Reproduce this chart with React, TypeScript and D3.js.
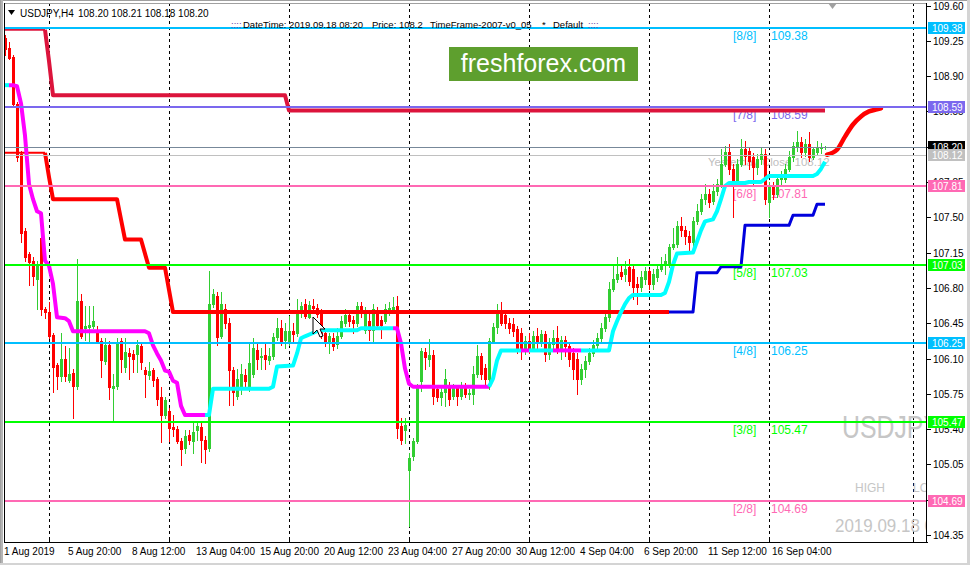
import React from "react";
import * as d3 from "d3";

const FONT = "'Liberation Sans', Arial, sans-serif";

// ---- data ----
const symbolHeader = "USDJPY,H4";
const ohlcHeader = "108.20 108.21 108.18 108.20";

const timeLabels = ["1 Aug 2019", "5 Aug 20:00", "8 Aug 12:00", "13 Aug 04:00", "15 Aug 20:00", "20 Aug 12:00", "23 Aug 04:00", "27 Aug 20:00", "30 Aug 12:00", "4 Sep 04:00", "6 Sep 20:00", "11 Sep 12:00", "16 Sep 04:00"];
const timeLabelBars = [0, 16, 32, 48, 64, 80, 96, 112, 128, 144, 160, 176, 192];
const gridBars = [11, 41, 71, 101, 131, 161, 191, 227];
const priceTicks = [109.6, 109.25, 108.9, 108.55, 108.2, 107.85, 107.5, 107.15, 106.8, 106.45, 106.1, 105.75, 105.4, 105.05, 104.7, 104.35];

const levelValues = [109.38, 108.59, 107.81, 107.03, 106.25, 105.47, 104.69];
const levelNames = ["[8/8]", "[7/8]", "[6/8]", "[5/8]", "[4/8]", "[3/8]", "[2/8]"];
const levelColors = ["#00BFFF", "#7B68EE", "#FF69B4", "#00FF00", "#00BFFF", "#00FF00", "#FF69B4"];
const bidPrice = 108.2;
const yesterdayClose = 108.12;

const opens = [109.28,109.18,109.09,108.62,108.13,107.36,107.14,107.07,106.89,107.29,106.59,106.56,106.33,106.04,105.93,106.10,105.89,105.96,105.83,106.67,106.40,106.41,106.42,106.37,106.27,106.08,106.23,105.81,105.83,106.27,106.02,106.15,106.14,106.14,106.22,105.99,105.94,105.99,105.90,105.72,105.54,105.58,105.42,105.40,105.28,105.21,105.34,105.28,105.39,105.42,105.29,105.21,106.64,106.72,106.32,106.59,106.45,105.99,105.73,105.80,105.94,105.80,105.95,106.18,106.11,106.13,106.09,106.12,106.31,106.40,106.28,106.27,106.37,106.35,106.56,106.64,106.51,106.62,106.60,106.55,106.35,106.27,106.30,106.24,106.32,106.45,106.53,106.48,106.45,106.62,106.38,106.47,106.38,106.56,106.48,106.47,106.56,106.58,106.62,105.43,105.39,104.99,105.13,105.28,105.88,106.16,106.10,106.13,105.80,105.72,105.77,105.83,105.73,105.81,105.73,105.83,105.75,105.75,105.95,106.12,106.01,105.90,106.27,106.41,106.56,106.53,106.45,106.44,106.39,106.35,106.18,106.27,106.20,106.32,106.25,106.34,106.14,106.24,106.30,106.20,106.28,106.22,106.15,106.10,105.90,106.00,106.08,106.15,106.23,106.30,106.40,106.51,106.79,106.89,106.96,106.94,107.01,106.99,106.84,106.81,106.89,106.97,106.84,106.91,106.99,107.04,107.04,107.21,107.24,107.41,107.37,107.31,107.26,107.46,107.56,107.68,107.73,107.66,107.76,107.83,108.03,108.15,107.98,107.86,108.03,108.18,108.16,108.10,108.00,108.08,108.13,107.65,107.80,107.73,107.88,107.88,107.98,108.10,108.21,108.25,108.15,108.23,108.10,108.15,108.19,108.20];
const highs = [109.31,109.24,109.11,108.64,108.16,107.39,107.16,107.11,107.07,107.33,106.61,106.66,106.35,106.06,106.35,106.22,106.20,106.00,107.09,106.74,106.62,106.62,106.62,106.42,106.30,106.30,106.27,105.95,106.30,106.30,106.30,106.20,106.18,106.28,106.25,106.02,106.07,106.01,105.92,105.82,105.72,105.61,105.54,105.43,105.31,105.39,105.39,105.48,105.48,105.46,105.33,106.97,106.79,106.76,106.76,106.64,106.50,106.02,106.00,106.05,106.00,106.25,106.30,106.25,106.20,106.25,106.20,106.35,106.50,106.48,106.45,106.52,106.45,106.69,106.66,106.69,106.67,106.69,106.64,106.59,106.38,106.35,106.35,106.40,106.52,106.59,106.57,106.52,106.66,106.66,106.61,106.54,106.64,106.61,106.52,106.64,106.66,106.71,106.72,105.51,105.51,105.16,105.31,105.85,106.20,106.20,106.29,106.18,105.82,105.82,106.00,105.87,105.85,105.84,105.87,105.86,105.80,106.03,106.23,106.15,106.05,106.30,106.45,106.64,106.66,106.56,106.50,106.50,106.42,106.40,106.32,106.35,106.37,106.40,106.38,106.37,106.30,106.38,106.42,106.32,106.32,106.25,106.20,106.15,106.05,106.12,106.20,106.28,106.35,106.45,106.55,106.86,107.04,107.11,107.03,107.07,107.09,107.04,106.91,106.97,107.01,106.99,106.99,107.04,107.11,107.14,107.24,107.39,107.46,107.50,107.41,107.36,107.50,107.63,107.73,107.83,107.78,107.83,107.88,108.18,108.21,108.23,108.03,108.08,108.28,108.26,108.20,108.14,108.13,108.20,108.18,107.85,107.85,107.93,107.96,108.03,108.16,108.25,108.36,108.30,108.28,108.35,108.20,108.26,108.24,108.21];
const lows = [109.11,109.07,108.61,108.06,107.26,107.07,106.83,106.83,106.59,106.53,106.50,106.30,105.77,105.80,105.88,105.88,105.87,105.51,105.80,106.30,106.28,106.25,106.40,106.25,105.92,106.05,105.70,105.49,105.80,105.97,105.97,105.90,105.97,105.97,106.00,105.72,105.90,105.83,105.64,105.27,105.51,105.28,105.33,105.26,105.04,105.16,105.25,105.16,105.29,105.07,105.06,105.18,106.61,106.23,106.30,106.40,105.64,105.64,105.70,105.75,105.80,105.78,105.92,106.00,106.00,106.00,106.05,106.10,106.28,106.23,106.20,106.23,106.25,106.32,106.51,106.50,106.50,106.57,106.51,106.30,106.22,106.15,106.18,106.20,106.30,106.42,106.42,106.35,106.42,106.51,106.35,106.28,106.27,106.40,106.30,106.45,106.53,106.55,105.31,105.25,105.26,104.44,105.09,105.26,105.78,106.00,106.03,105.65,105.68,105.64,105.63,105.64,105.70,105.64,105.70,105.72,105.70,105.65,105.92,105.90,105.85,105.80,106.25,106.35,106.43,106.40,106.35,106.32,106.15,106.10,106.14,106.15,106.17,106.20,106.22,106.08,106.10,106.18,106.15,106.10,106.12,106.03,105.90,105.75,105.85,105.92,106.05,106.12,106.20,106.27,106.37,106.47,106.77,106.86,106.89,106.87,106.83,106.69,106.64,106.77,106.84,106.79,106.79,106.87,106.97,106.94,107.01,107.19,107.21,107.31,107.24,107.17,107.19,107.43,107.53,107.63,107.60,107.63,107.72,107.80,108.01,107.93,107.50,107.82,108.01,108.03,107.98,107.81,107.93,108.03,107.63,107.50,107.68,107.70,107.83,107.85,107.96,108.06,108.16,108.10,108.11,108.06,108.08,108.12,108.14,108.18];
const closes = [109.17,109.08,108.62,108.10,107.34,107.11,107.06,106.92,107.02,106.59,106.56,106.32,106.02,105.93,106.10,105.93,105.95,105.83,106.67,106.32,106.42,106.43,106.47,106.27,106.09,106.23,105.82,105.83,106.26,106.10,106.16,106.12,106.10,106.23,106.07,105.95,105.98,105.89,105.70,105.54,105.69,105.41,105.40,105.28,105.20,105.33,105.29,105.37,105.43,105.29,105.20,106.64,106.74,106.31,106.64,106.45,105.99,105.77,105.90,105.95,105.88,106.06,106.20,106.10,106.12,106.10,106.12,106.31,106.40,106.27,106.37,106.37,106.34,106.56,106.62,106.52,106.63,106.60,106.54,106.33,106.27,106.32,106.22,106.32,106.47,106.53,106.47,106.45,106.62,106.57,106.57,106.38,106.59,106.43,106.43,106.59,106.60,106.61,105.41,105.29,105.44,105.11,105.28,105.81,106.17,106.11,106.13,105.73,105.72,105.77,105.90,105.70,105.81,105.73,105.83,105.75,105.76,105.95,106.12,105.95,105.90,106.27,106.41,106.55,106.45,106.45,106.40,106.37,106.18,106.18,106.27,106.20,106.32,106.25,106.34,106.14,106.24,106.30,106.20,106.28,106.22,106.10,106.00,105.90,106.00,106.08,106.15,106.23,106.30,106.40,106.51,106.79,106.89,106.94,106.92,106.99,106.87,106.81,106.81,106.91,106.97,106.84,106.94,106.99,107.04,107.07,107.21,107.24,107.41,107.37,107.31,107.26,107.46,107.56,107.68,107.73,107.65,107.76,107.83,108.03,108.15,107.98,107.86,108.03,108.18,108.11,108.06,108.00,108.08,108.13,107.68,107.80,107.73,107.88,107.90,107.98,108.10,108.21,108.25,108.15,108.23,108.10,108.18,108.19,108.20,108.20];

// upper (crimson) and lower (red -> blue) step channels: [bar, price] vertices
const upperThin = [[0, 109.36], [10, 109.36]];
const upperBand = [[10, 109.36], [11, 109.05], [12, 108.71], [70, 108.71], [71, 108.56], [205, 108.56]];
const lowerThin = [[0, 108.14], [10, 108.14]];
const lowerRed = [[10, 108.14], [11, 107.9], [12, 107.68], [28, 107.68], [29, 107.48], [30, 107.28], [34, 107.28], [35, 107.14], [36, 107.0], [40, 107.0], [41, 106.78], [42, 106.56], [166, 106.56]];
const lowerBlue = [[166, 106.56], [172, 106.56], [173, 106.95], [178, 106.95], [179, 107.01], [184, 107.01], [185, 107.42], [196, 107.42], [197, 107.52], [202, 107.52], [203, 107.63], [205, 107.63]];

// trailing stop line: vertices and colour runs
const trail = [[0,108.81],[1,108.81],[2,108.81],[3,108.80],[4,108.63],[5,108.31],[6,107.83],[7,107.68],[8,107.56],[9,107.54],[10,107.07],[11,107.02],[12,106.84],[13,106.51],[15,106.50],[16,106.47],[17,106.37],[35,106.37],[36,106.35],[37,106.23],[38,106.15],[39,106.08],[40,105.98],[41,105.97],[42,105.88],[43,105.86],[44,105.63],[45,105.54],[50,105.54],[51,105.54],[52,105.80],[66,105.80],[67,105.82],[68,106.02],[72,106.03],[73,106.15],[74,106.30],[75,106.32],[78,106.37],[79,106.38],[88,106.38],[89,106.40],[97,106.40],[98,106.40],[99,106.25],[100,106.00],[101,105.85],[102,105.82],[121,105.82],[122,105.90],[123,106.08],[124,106.18],[129,106.18],[130,106.18],[131,106.18],[132,106.18],[137,106.18],[138,106.18],[144,106.18],[145,106.18],[151,106.18],[152,106.37],[153,106.47],[154,106.56],[155,106.64],[156,106.70],[157,106.73],[164,106.73],[165,106.75],[166,106.86],[167,107.03],[168,107.14],[172,107.15],[173,107.26],[174,107.37],[175,107.46],[177,107.48],[178,107.56],[179,107.68],[180,107.81],[181,107.84],[185,107.84],[186,107.85],[189,107.85],[190,107.88],[191,107.91],[202,107.91],[203,107.93],[204,107.98],[205,108.05]];
const trailRuns = [[0, 1, "up"], [2, 50, "dn"], [51, 97, "up"], [98, 121, "dn"], [122, 129, "up"], [130, 131, "dn"], [132, 137, "up"], [138, 144, "dn"], [145, 205, "up"]];

const forecast = [[205.5, 108.12], [208, 108.17], [210, 108.3], [212, 108.42], [214, 108.5], [216, 108.55], [218, 108.57], [219, 108.58]];

const W = 970;
const H = 565;
const PL = 5, PR = 927, PT = 3, PB = 542;

export default function App() {
  const x = d3.scaleLinear().domain([0, 230]).range([5, 925]);
  const y = d3.scaleLinear().domain([104.35, 109.6]).range([535, 5.5]);
  const line = d3.line<number[]>().x((d) => x(d[0])).y((d) => y(d[1]));
  const curve = d3.line<number[]>().x((d) => x(d[0])).y((d) => y(d[1])).curve(d3.curveMonotoneX);
  const ry = (p: number) => Math.round(y(p));

  const candles = opens.map((o, i) => {
    const c = closes[i];
    const up = c >= o;
    const col = up ? "#32CD32" : "#FF0000";
    const cx = Math.round(x(i));
    const top = ry(Math.max(o, c));
    const bot = ry(Math.min(o, c));
    const ht = ry(highs[i]);
    const lb = ry(lows[i]);
    return (
      <g key={i}>
        <rect x={cx} y={ht} width={1} height={lb - ht + 1} fill={col} />
        <rect x={cx - 1} y={top} width={3} height={Math.max(1, bot - top + 1)} fill={col} />
      </g>
    );
  });

  const trailPaths = trailRuns.map(([s, e, dir], k) => {
    const pts = trail.filter((p) => p[0] >= (s as number) - 1 && p[0] <= (e as number));
    return <path key={k} d={line(pts) || ""} fill="none" stroke={dir === "up" ? "#00FFFF" : "#FF00FF"} strokeWidth={4} strokeLinejoin="round" />;
  });

  const boxes = [
    { p: levelValues[0], fill: "#00BFFF" },
    { p: levelValues[1], fill: "#7B68EE" },
    { p: bidPrice, fill: "#000000" },
    { p: yesterdayClose, fill: "#C0C0C0" },
    { p: levelValues[2], fill: "#FF69B4" },
    { p: levelValues[3], fill: "#00FF00" },
    { p: levelValues[4], fill: "#00BFFF" },
    { p: levelValues[5], fill: "#00FF00" },
    { p: levelValues[6], fill: "#FF69B4" },
  ];

  return (
    <svg width={W} height={H} style={{ position: "absolute", left: 0, top: 0, background: "#fff" }} fontFamily={FONT}>
      <defs>
        <clipPath id="plot">
          <rect x={PL} y={PT + 1} width={PR - PL} height={PB - PT - 1} />
        </clipPath>
      </defs>
      <rect x={0} y={0} width={W} height={H} fill="#fff" />
      {/* window frame */}
      <rect x={0.5} y={0.5} width={W - 1} height={H - 1} fill="none" stroke="#a0a0a0" />
      <rect x={1} y={0} width={2} height={H} fill="#b4b4b4" />
      <rect x={W - 3} y={0} width={3} height={H} fill="#d4d4d4" />
      <rect x={0} y={H - 2} width={W} height={2} fill="#d4d4d4" />
      <line x1={4} x2={PR} y1={PT + 0.5} y2={PT + 0.5} stroke="#a0a0a0" />
      <line x1={4.5} x2={4.5} y1={PT} y2={PB} stroke="#000" />

      <g clipPath="url(#plot)">
        {/* grid */}
        {gridBars.map((b) => (
          <line key={b} x1={Math.round(x(b)) + 0.5} x2={Math.round(x(b)) + 0.5} y1={PT} y2={PB} stroke="#000" strokeDasharray="3,3" />
        ))}

        {/* watermark texts */}
        <text x={842} y={438} fontSize={31} fill="#c6c6c6" textLength={98} lengthAdjust="spacingAndGlyphs">USDJPY</text>
        <text x={855} y={492} fontSize={12} fill="#c6c6c6">HIGH</text>
        <text x={913} y={492} fontSize={12} fill="#c6c6c6">LOW</text>
        <text x={835} y={532} fontSize={19} fill="#c6c6c6" textLength={132} lengthAdjust="spacingAndGlyphs">2019.09.18 08:20</text>
        <text x={708} y={166} fontSize={11.5} fill="#c0c0c0">Yesterday Close {yesterdayClose.toFixed(2)}</text>

        {levelValues.map((v, k) => (
          <g key={k} fontSize={12} fill={levelColors[k]}>
            <text x={733} y={ry(v) + 12}>{levelNames[k]}</text>
            <text x={771} y={ry(v) + 12}>{v.toFixed(2)}</text>
          </g>
        ))}

        {candles}

        {/* step channels */}
        <path d={line(upperThin) || ""} fill="none" stroke="#DC143C" strokeWidth={2} />
        <path d={line(upperBand) || ""} fill="none" stroke="#DC143C" strokeWidth={4} strokeLinejoin="round" />
        <path d={line(lowerThin) || ""} fill="none" stroke="#FF0000" strokeWidth={2} />
        <path d={line(lowerRed) || ""} fill="none" stroke="#FF0000" strokeWidth={4} strokeLinejoin="round" />
        <path d={line(lowerBlue) || ""} fill="none" stroke="#0000DD" strokeWidth={3} strokeLinejoin="round" />
        {trailPaths}
        <path d={curve(forecast) || ""} fill="none" stroke="#FF0000" strokeWidth={4.5} strokeLinecap="round" />

        {/* level lines */}
        {levelValues.map((v, k) => (
          <rect key={k} x={PL} y={ry(v) - 1} width={PR - PL} height={2} fill={levelColors[k]} />
        ))}
        <rect x={PL} y={ry(bidPrice)} width={PR - PL} height={1} fill="#778899" />
        <rect x={PL} y={ry(yesterdayClose)} width={PR - PL} height={1} fill="#C0C0C0" />

        {/* mouse cursor */}
        <polygon points="313,317 313,334 317,330 320,337 323,336 320,329 325,329" fill="#fff" stroke="#000" strokeWidth={1} />
      </g>

      {/* header */}
      <polygon points="8,10 15,10 11.5,15" fill="#000" />
      <text x={20} y={17} fontSize={10} fill="#000">{symbolHeader}</text>
      <text x={78} y={17} fontSize={10} fill="#000">{ohlcHeader}</text>
      <g fontSize={9.5} fill="#000">
        <text x={231} y={28} fill="#6a3fa0">::::</text>
        <text x={243} y={28}>DateTime: 2019.09.18 08:20</text>
        <text x={372} y={28}>Price: 108.2</text>
        <text x={430} y={28}>TimeFrame-2007-v0_05</text>
        <text x={542} y={28}>*</text>
        <text x={553} y={28}>Default</text>
        <text x={588} y={28} fill="#6a3fa0">::::</text>
      </g>

      {/* freshforex badge */}
      <rect x={449} y={47} width={189} height={34} fill="#5e9f2e" />
      <text x={543.5} y={72} fontSize={25} fill="#fff" textAnchor="middle">freshforex.com</text>

      {/* chart shift marker */}
      <polygon points="828,3 837,3 832.5,9" fill="#a0a0a0" />

      {/* axes */}
      <line x1={4} x2={PR + 1} y1={PB + 0.5} y2={PB + 0.5} stroke="#000" />
      <line x1={PR - 0.5} x2={PR - 0.5} y1={PT} y2={PB + 1} stroke="#000" />
      {gridBars.map((b) => (
        <line key={b} x1={Math.round(x(b)) + 0.5} x2={Math.round(x(b)) + 0.5} y1={PB - 4} y2={PB} stroke="#000" />
      ))}
      {timeLabels.map((t, k) => (
        <text key={t} x={x(timeLabelBars[k]) - 1} y={555} fontSize={10} fill="#000">{t}</text>
      ))}
      {priceTicks.map((p) => (
        <g key={p}>
          <line x1={PR} x2={PR + 4} y1={ry(p) + 0.5} y2={ry(p) + 0.5} stroke="#000" />
          <text x={933} y={ry(p) + 4} fontSize={10} fill="#000">{p.toFixed(2)}</text>
        </g>
      ))}
      {boxes.map((b, k) => (
        <g key={k}>
          <rect x={928} y={ry(b.p) - 6} width={37} height={12} fill={b.fill} />
          <text x={932} y={ry(b.p) + 4} fontSize={10} fill="#fff">{b.p.toFixed(2)}</text>
        </g>
      ))}
    </svg>
  );
}
